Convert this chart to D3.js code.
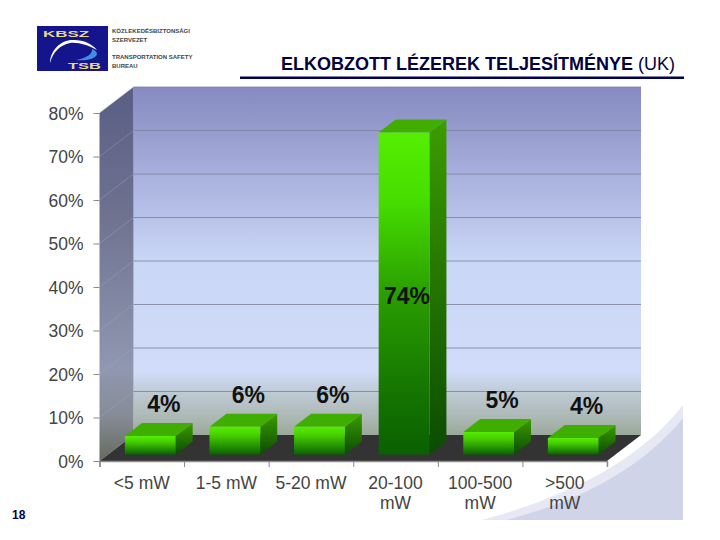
<!DOCTYPE html>
<html><head><meta charset="utf-8">
<script src="https://cdn.jsdelivr.net/npm/d3@7"></script>
<style>html,body{margin:0;padding:0;background:#fff}svg{display:block}text{font-family:"Liberation Sans",Arial,sans-serif}</style>
</head><body><svg id="c" width="720" height="540"></svg>
<script>
const categories = ["<5 mW","1-5 mW","5-20 mW","20-100\nmW","100-500\nmW",">500\nmW"];
const values = [4.25,6.4,6.4,74,5.2,3.8];
const yTicks = [0,10,20,30,40,50,60,70,80];
const titleBold = "ELKOBZOTT LÉZEREK TELJESÍTMÉNYE";
const titleLight = " (UK)";
const logoLines = ["KÖZLEKEDÉSBIZTONSÁGI","SZERVEZET","","TRANSPORTATION SAFETY","BUREAU"];
const pageNumber = "18";

const svg = d3.select("#c");
const defs = svg.append("defs");
function grad(id, stops){
  const g = defs.append("linearGradient").attr("id",id).attr("x1",0).attr("y1",0).attr("x2",0).attr("y2",1);
  stops.forEach(([o,c])=>g.append("stop").attr("offset",o).attr("stop-color",c));
}
grad("wall",[[0,"#8589c0"],[.325,"#b2bbe4"],[.5,"#cad6f6"],[.82,"#d0dcf8"],[.875,"#bfcbd6"],[.957,"#aab6b0"],[1,"#9aa89a"]]);
grad("side",[[0,"#5a5d85"],[.35,"#6f7390"],[.75,"#9097b0"],[.88,"#868c96"],[1,"#646a5e"]]);
grad("face",[[0,"#55ee00"],[.3,"#47d000"],[1,"#0a6200"]]);
grad("faceTall",[[0,"#55ee00"],[.22,"#46dc00"],[.5,"#2a9e00"],[.8,"#157600"],[1,"#0a6000"]]);
grad("sideFace",[[0,"#3c9c00"],[1,"#0a4c00"]]);

const x = d3.scaleBand().domain(categories).range([99.5,607]).paddingInner(0);
const y = d3.scaleLinear().domain([0,80]).range([461,113]);
const dx = 34, dy = 26;
const barW = x.step()*0.6;
const proj = (px,py,z)=>[px+dx*z, py-dy*z];
const poly = pts => pts.map(p=>p.join(",")).join(" ");

// decorative swoosh
svg.append("path").attr("d","M482,520 C570,496 640,460 683,405 L683,520 Z").attr("fill","#e6e8f3");
svg.append("path").attr("d","M506,520 C585,500 645,465 683,418 L683,520 Z").attr("fill","#cfd4e8");

// logo
const lg = svg.append("g");
lg.append("rect").attr("x",37).attr("y",26).attr("width",71).attr("height",45).attr("fill","#14148c");
lg.append("text").attr("x",43).attr("y",37).attr("font-size",9.5).attr("font-weight","bold").attr("textLength",46).attr("lengthAdjust","spacingAndGlyphs").attr("fill","#e8dc8a").text("KBSZ");
lg.append("text").attr("x",68).attr("y",69).attr("font-size",9.5).attr("font-weight","bold").attr("textLength",33).attr("lengthAdjust","spacingAndGlyphs").attr("fill","#e8dc8a").text("TSB");
lg.append("path").attr("d","M50,63 C50,50 62,39 74,40 C84,40 92,44 97,50 C88,45 78,42 70,43 C60,45 53,52 50,63 Z").attr("fill","#fff");
lg.append("path").attr("d","M76,60 C86,58 93,54 92,49 C97,51 98,54 96,56 C92,60 84,61 76,60 Z").attr("fill","#3f8fe0");
lg.selectAll("text.l").data(logoLines).join("text").attr("class","l")
  .attr("x",112).attr("y",(d,i)=>33+i*8.8).attr("font-size",6).attr("font-weight","bold")
  .attr("fill","#444").text(d=>d);

// title
const t = svg.append("text").attr("x",281).attr("y",70).attr("font-size",18).attr("fill","#000040");
t.append("tspan").attr("font-weight","bold").text(titleBold);
t.append("tspan").text(titleLight);
svg.append("rect").attr("x",240).attr("y",76.5).attr("width",444).attr("height",2.5).attr("fill","#000050");

// walls
const x0 = x.range()[0], x1 = x.range()[1];
svg.append("rect").attr("x",x0+dx).attr("y",y(80)-dy).attr("width",x1-x0).attr("height",y(0)-y(80)).attr("fill","url(#wall)");
svg.append("polygon").attr("points",poly([[x0,y(80)],proj(x0,y(80),1),proj(x0,y(0),1),[x0,y(0)]])).attr("fill","url(#side)");
svg.append("polygon").attr("points",poly([[x0,y(0)],[x1,y(0)],proj(x1,y(0),1),proj(x0,y(0),1)])).attr("fill","#333");

// gridlines
const gt = yTicks.filter(d=>d>0);
svg.selectAll("line.g").data(gt).join("line").attr("class","g")
  .attr("x1",x0+dx).attr("x2",x1+dx).attr("y1",d=>y(d)-dy).attr("y2",d=>y(d)-dy)
  .attr("stroke","#80849c").attr("stroke-opacity",.85).attr("stroke-width",1);
svg.selectAll("line.s").data(gt).join("line").attr("class","s")
  .attr("x1",x0).attr("x2",x0+dx).attr("y1",d=>y(d)).attr("y2",d=>y(d)-dy)
  .attr("stroke","#a4a8bc").attr("stroke-opacity",.4).attr("stroke-width",1);

// axes
const yAxis = d3.axisLeft(y).tickValues(yTicks).tickFormat(d=>d+"%").tickSize(6).tickPadding(10);
const ya = svg.append("g").attr("transform",`translate(${x0},0)`).call(yAxis);
ya.select(".domain").remove();
ya.selectAll("line").attr("stroke","#888");
ya.selectAll("text").attr("font-size",17.5).attr("fill","#444").attr("dy","1.4").attr("dominant-baseline","middle").attr("font-family","'Liberation Sans',Arial,sans-serif");

const bounds = d3.scaleLinear().domain([0,categories.length]).range([x0,x1]);
const xTicks = svg.append("g").attr("transform",`translate(0,${y(0)})`)
  .call(d3.axisBottom(bounds).tickValues(d3.range(0,categories.length+1)).tickSize(6).tickFormat(""));
xTicks.select(".domain").attr("stroke","#8c8c8c").attr("stroke-width",1.5);
xTicks.selectAll("line").attr("stroke","#888");

const xa = svg.append("g").attr("transform",`translate(0,${y(0)})`)
  .call(d3.axisBottom(x).tickSize(0).tickPadding(0));
xa.select(".domain").remove();
xa.selectAll("text").attr("font-size",17.5).attr("fill","#444").attr("font-family","'Liberation Sans',Arial,sans-serif")
  .attr("y",27.5).attr("dy",0)
  .each(function(d){
    const el = d3.select(this);
    el.text(null);
    d.split("\n").forEach((p,i)=>el.append("tspan").attr("x",0).attr("dy",i?20.5:0).text(p));
  });

// bars
const zA = .25, zB = .75;
const bars = svg.selectAll("g.b").data(categories.map((c,i)=>({c,v:values[i]}))).join("g").attr("class","b");
const left = d=>x(d.c)+(x.step()-barW)/2;
bars.append("polygon").attr("fill","url(#sideFace)").attr("points",d=>{
  const r=left(d)+barW;
  return poly([proj(r,y(d.v),zA),proj(r,y(d.v),zB),proj(r,y(0),zB),proj(r,y(0),zA)]);
});
bars.append("polygon").attr("fill","#3fae00").attr("points",d=>{
  const l=left(d), r=l+barW;
  return poly([proj(l,y(d.v),zA),proj(r,y(d.v),zA),proj(r,y(d.v),zB),proj(l,y(d.v),zB)]);
});
bars.append("polygon").attr("fill",d=>d.v>50?"url(#faceTall)":"url(#face)").attr("points",d=>{
  const l=left(d), r=l+barW;
  return poly([proj(l,y(d.v),zA),proj(r,y(d.v),zA),proj(r,y(0),zA),proj(l,y(0),zA)]);
});

// value labels
bars.append("text").attr("text-anchor","middle").attr("font-weight","bold").attr("font-size",23).attr("fill","#111")
  .attr("x",d=>d.v>50?left(d)+barW/2+dx*zA+3:left(d)+barW/2+dx*.5+5)
  .attr("y",d=>d.v>50?(y(d.v)+y(0))/2-dy*zA+10:y(d.v)-dy*zB-11)
  .text(d=>Math.round(d.v)+"%");

svg.append("text").attr("x",12).attr("y",519).attr("font-size",12).attr("font-weight","bold").attr("fill","#000050").text(pageNumber);
</script></body></html>
